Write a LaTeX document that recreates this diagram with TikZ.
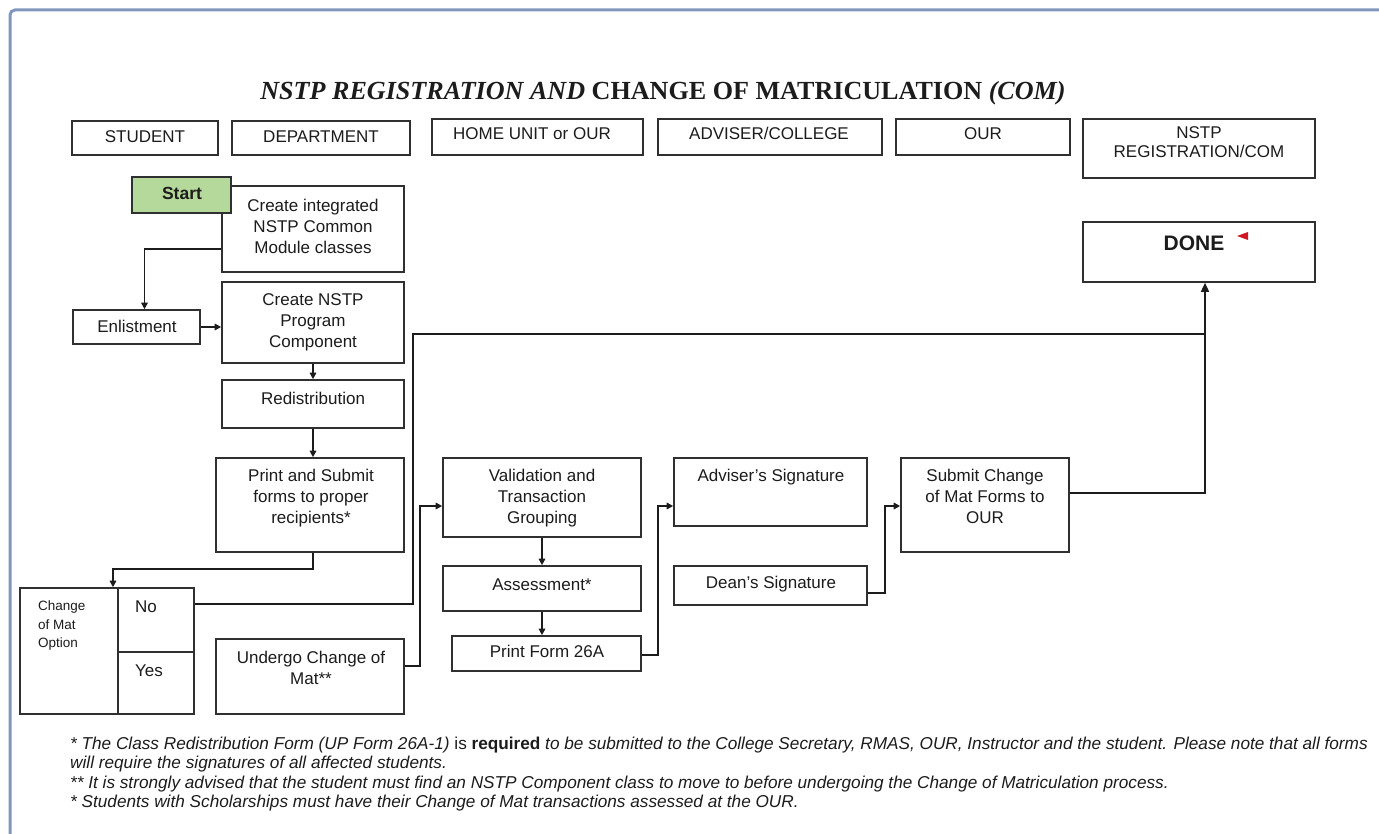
\documentclass[tikz,border=0pt]{standalone}
\usepackage{fontspec}
\setmainfont{Liberation Sans}
\newfontfamily\titlefont{Liberation Serif}
\usetikzlibrary{arrows.meta}

\definecolor{frameblue}{RGB}{128,150,188}
\definecolor{ink}{RGB}{28,28,28}
\definecolor{edge}{RGB}{48,48,48}
\definecolor{startgreen}{RGB}{181,217,154}
\definecolor{markred}{RGB}{208,24,36}

% rectangle node given by its corners: name, x1, y1, x2, y2
\newcommand{\flowbox}[6][]{%
  \node[box,#1,minimum width={#5-#3},minimum height={#6-#4}] (#2)
    at ({(#3+#5)/2},{(#4+#6)/2}) {};}

\tikzset{
  box/.style={draw=edge,line width=1.6pt,rectangle,inner sep=0pt,fill=white},
  txt/.style={text=ink,font=\fontsize{17}{21}\selectfont,align=center,inner sep=0pt},
  small/.style={text=ink,font=\fontsize{13.5}{18.5}\selectfont,align=left,inner sep=0pt},
  note/.style={text=ink,font=\fontsize{17.2}{19}\selectfont\itshape,inner sep=0pt,anchor=base west},
  flow/.style={draw=ink,line width=1.5pt,-{Triangle[length=6.5pt,width=6.5pt]}},
  link/.style={draw=ink,line width=1.5pt},
}

\begin{document}
\begin{tikzpicture}[x=1pt,y=-1pt]
\useasboundingbox (0,0) rectangle (1379,834);
\clip (0,0) rectangle (1379,834);

% page frame
\draw[frameblue,line width=3pt,rounded corners=5pt] (10,900) -- (10,10) -- (1450,10);

% title
\node[inner sep=0pt,anchor=base,text=ink,font=\titlefont\bfseries\fontsize{26.1}{30}\selectfont] (title) at (663,99.5)
  {\itshape NSTP REGISTRATION AND \upshape CHANGE OF MATRICULATION \itshape(COM)};

% lane headers
\flowbox{hstud}{72}{121}{218}{155}
\flowbox{hdept}{232}{121}{410}{155}
\flowbox{hhome}{432}{119}{643}{155}
\flowbox{hadv}{658}{119}{882}{155}
\flowbox{hour}{896}{119}{1070}{155}
\flowbox{hnstp}{1083}{119}{1315}{178}
\node[txt,anchor=base] (thstud) at (145,143) {STUDENT};
\node[txt,anchor=base] (thdept) at (321,143) {DEPARTMENT};
\node[txt,anchor=base] (thhome) at (532,139.5) {HOME UNIT or OUR};
\node[txt,anchor=base] (thadv) at (769,139.5) {ADVISER/COLLEGE};
\node[txt,anchor=base] (thour) at (983,139.5) {OUR};
\node[txt,anchor=north,font=\fontsize{17}{19}\selectfont] (thnstp) at (1199,126) {NSTP\\REGISTRATION/COM};

% student / department column
\flowbox{integ}{222}{186}{404}{272}
\node[txt,anchor=north] (tinteg) at (313,199) {Create integrated\\NSTP Common\\Module classes};
\flowbox[fill=startgreen]{start}{132}{177}{231}{213}
\node[txt,anchor=base,font=\fontsize{17.5}{21}\selectfont\bfseries] (tstart) at (182,200) {Start};

\flowbox{enlist}{73}{310}{200}{344}
\node[txt,anchor=base] (tenlist) at (137,333) {Enlistment};

\flowbox{comp}{222}{282}{404}{363}
\node[txt,anchor=north] (tcomp) at (313,293) {Create NSTP\\Program\\Component};

\flowbox{redis}{222}{380}{404}{428}
\node[txt,anchor=base] (tredis) at (313,404) {Redistribution};

\flowbox{print}{216}{458}{404}{552}
\node[txt,anchor=north] (tprint) at (311,469) {Print and Submit\\forms to proper\\recipients*};

% change of mat option table
\flowbox{com}{20}{588}{194}{714}
\flowbox{nocell}{118}{588}{194}{652}
\flowbox{yescell}{118}{652}{194}{714}
\node[small,anchor=north west] (tcom) at (38,601) {Change\\of Mat\\Option};
\node[txt,anchor=base west] (nolab) at (135,612) {No};
\node[txt,anchor=base west] (yeslab) at (135,676) {Yes};

\flowbox{undergo}{216}{639}{404}{714}
\node[txt,anchor=north] (tundergo) at (311,651) {Undergo Change of\\Mat**};

% home unit column
\flowbox{valid}{443}{458}{641}{537}
\node[txt,anchor=north] (tvalid) at (542,469) {Validation and\\Transaction\\Grouping};
\flowbox{assess}{443}{566}{641}{611}
\node[txt,anchor=base] (tassess) at (542,590) {Assessment*};
\flowbox{form}{452}{636}{641}{671}
\node[txt,anchor=base] (tform) at (547,657) {Print Form 26A};

% adviser / college column
\flowbox{adviser}{674}{458}{867}{526}
\node[txt,anchor=base] (tadviser) at (771,481) {Adviser’s Signature};
\flowbox{dean}{674}{566}{867}{605}
\node[txt,anchor=base] (tdean) at (771,588) {Dean’s Signature};

% OUR column
\flowbox{submit}{901}{458}{1069}{552}
\node[txt,anchor=north] (tsubmit) at (985,469) {Submit Change\\of Mat Forms to\\OUR};

% end
\flowbox{done}{1083}{222}{1315}{282}
\node[txt,anchor=base,font=\fontsize{21}{24}\selectfont\bfseries] (tdone) at (1194,250.5) {DONE};
\fill[markred] (1237,236) -- (1248,232) -- (1248,240) -- cycle;

% connectors
\coordinate (merge) at (1205,334);
\draw[flow] ([yshift=-20pt]integ.west) -| ([xshift=8pt]enlist.north);
\draw[flow] (enlist.east) -- (enlist.east -| comp.west);
\draw[flow] (comp.south) -- (redis.north);
\draw[flow] (redis.south) -- (redis.south |- print.north);
\draw[flow] (redis.south |- print.south) -- ++(0,16) -| ([xshift=6pt]com.north);
\draw[link] (nocell.east |- 0,604) -- ++(218,0) |- (merge);
\draw[flow] ([yshift=10.5pt]undergo.east) -- ++(15,0) |- ([yshift=-8.5pt]valid.west);
\draw[flow] (valid.south -| tassess) -- (tassess |- assess.north);
\draw[flow] (assess.south -| tassess) -- (tassess |- form.north);
\draw[flow] ([yshift=-1.5pt]form.east) -- ++(16,0) |- ([yshift=-14pt]adviser.west);
\draw[flow] ([yshift=-7.5pt]dean.east) -- ++(17,0) |- ([yshift=-1pt]submit.west);
\draw[draw=ink,line width=1.5pt,-{Triangle[length=9pt,width=8pt]}] ([yshift=12pt]submit.east) -| ([xshift=6pt]done.south);

% footnotes
\node[note] (n1) at (70,749) {* The Class Redistribution Form (UP Form 26A-1) \upshape is \bfseries required\mdseries\itshape{} to be submitted to the College Secretary, RMAS, OUR, Instructor and the student. Please note that all forms};
\node[note] (n2) at (70,768.5) {will require the signatures of all affected students.};
\node[note] (n3) at (70,788) {** It is strongly advised that the student must find an NSTP Component class to move to before undergoing the Change of Matriculation process.};
\node[note] (n4) at (70,807.5) {* Students with Scholarships must have their Change of Mat transactions assessed at the OUR.};
\end{tikzpicture}
\end{document}
